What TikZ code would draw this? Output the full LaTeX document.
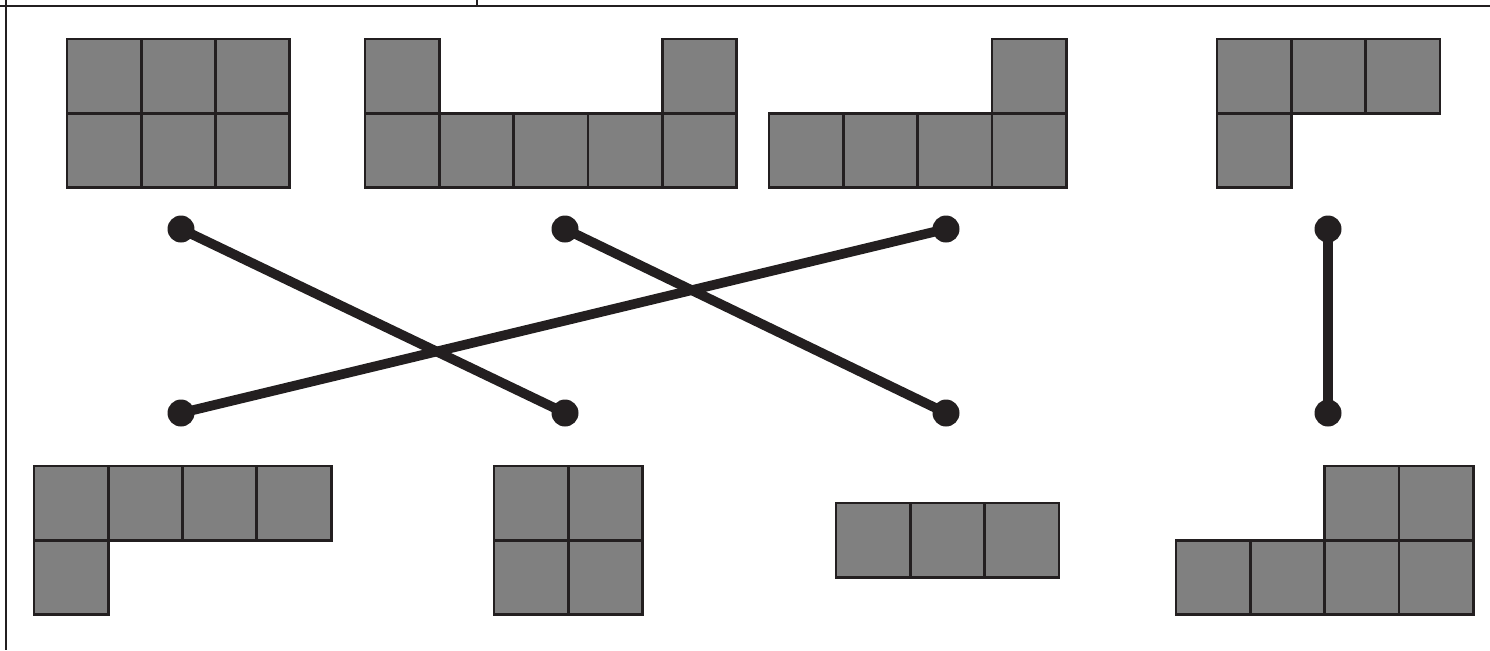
\documentclass[tikz,border=0pt]{standalone}
\usetikzlibrary{positioning}
\definecolor{inkblack}{HTML}{231F20}
\definecolor{tilegray}{HTML}{808080}
\tikzset{
    cell/.style={draw=inkblack, fill=tilegray, line width=1.6pt},
    frameline/.style={draw=inkblack, line width=1.6pt},
    dot/.style={circle, fill=inkblack, inner sep=0pt, minimum size=0.54cm},
    link/.style={draw=inkblack, line width=5.5pt}
}
% one tile, top-left corner in pixel units
\newcommand{\tile}[2]{\draw[cell] (#1,#2) rectangle ++(74.3,74.3);}

\begin{document}
\begin{tikzpicture}[x=0.02cm, y=-0.02cm]
        \useasboundingbox (0,0) rectangle (1490,650);
        % frame
        \draw [frameline] (0,6) -- (1490,6);
        \draw [frameline] (6,0) -- (6,650);
        \draw [frameline] (477,0) -- (477,6);

        % top row of shapes
        \foreach \x in {67,141.3,215.6} {\tile{\x}{39}\tile{\x}{113.3}}
        \foreach \x in {365,439.3,513.6,587.9,662.2} {\tile{\x}{113.3}}
        \tile{365}{39}
        \tile{662.2}{39}
        \foreach \x in {769,843.3,917.6,991.9} {\tile{\x}{113.3}}
        \tile{991.9}{39}
        \foreach \x in {1217,1291.3,1365.6} {\tile{\x}{39}}
        \tile{1217}{113.3}

        % bottom row of shapes
        \foreach \x in {34,108.3,182.6,256.9} {\tile{\x}{466}}
        \tile{34}{540.3}
        \foreach \x in {494,568.3} {\tile{\x}{466}\tile{\x}{540.3}}
        \foreach \x in {836,910.3,984.6} {\tile{\x}{503}}
        \foreach \x in {1176,1250.3,1324.6,1398.9} {\tile{\x}{540.3}}
        \tile{1324.6}{466}
        \tile{1398.9}{466}

        % dots
        \node (topA) [dot] at (181,229) {};
        \node (topB) [dot] at (565,229) {};
        \node (topC) [dot] at (946,229) {};
        \node (topD) [dot] at (1328,229) {};
        \node (botA) [dot] at (181,413) {};
        \node (botB) [dot] at (565,413) {};
        \node (botC) [dot] at (946,413) {};
        \node (botD) [dot] at (1328,413) {};

        % matches
        \draw [link] (topA.center) -- (botB.center);
        \draw [link] (topB.center) -- (botC.center);
        \draw [link] (topC.center) -- (botA.center);
        \draw [link] (topD.center) -- (botD.center);
    \end{tikzpicture}
\end{document}
